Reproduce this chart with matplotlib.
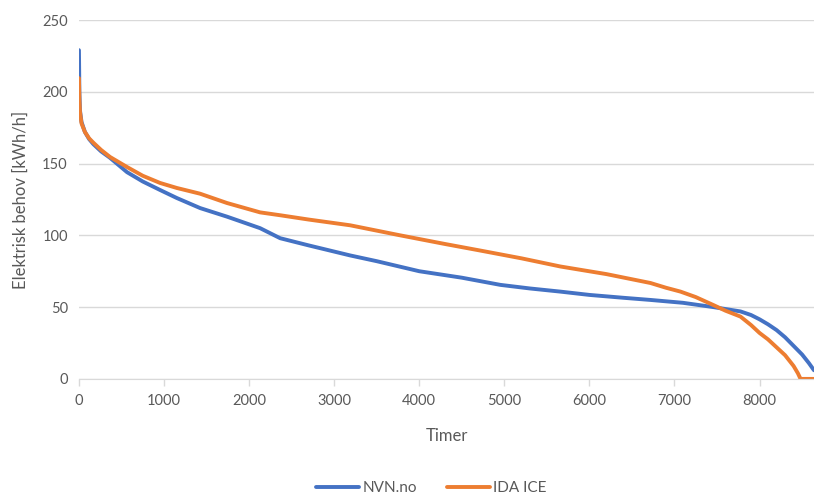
import matplotlib
matplotlib.use("Agg")
import matplotlib.pyplot as plt

plt.rcParams['font.family'] = ['Lato', 'DejaVu Sans']

# Duration curves: hours sorted by electric demand
hours_nvn = [0, 5, 12, 30, 70, 120, 170, 260, 365, 565, 750, 953, 1150, 1424, 1741, 2129,
             2365, 2700, 3188, 3500, 4000, 4500, 4953, 5300, 5659, 6000, 6400, 6718, 7100,
             7459, 7776, 7900, 8000, 8100, 8200, 8300, 8400, 8500, 8580, 8640]
demand_nvn = [229, 200, 187, 179, 172, 167, 163.5, 158.5, 154, 144, 137.5, 131.6, 126, 119,
              113, 105, 98, 93, 86, 82, 75, 70.5, 65.5, 63, 60.8, 58.5, 56.5, 55, 53,
              50, 47, 44.5, 41.5, 38, 34, 29, 23, 17, 11, 6]

hours_ida = [0, 5, 12, 30, 70, 120, 170, 260, 365, 565, 750, 953, 1150, 1424, 1741, 2129,
             2365, 2700, 3188, 3776, 4300, 4718, 5200, 5659, 6200, 6718, 6900, 7071, 7250,
             7459, 7600, 7776, 7900, 8000, 8100, 8200, 8300, 8400, 8450, 8482, 8640]
demand_ida = [209.5, 195, 186, 178, 172, 167.5, 164.5, 159.5, 154.6, 147.6, 141.5, 136.5,
              133, 129, 122.5, 116, 114, 111, 107, 100, 94, 89.4, 84, 78.3, 73, 66.8,
              63.5, 60.8, 57, 51.4, 47.5, 43.4, 37.5, 32, 27.5, 22, 16.5, 9, 4, 0, 0]

x_ticks = [0, 1000, 2000, 3000, 4000, 5000, 6000, 7000, 8000]
y_ticks = [0, 50, 100, 150, 200, 250]

blue = '#4472C4'
orange = '#ED7D31'
text_color = '#595959'

fig = plt.figure(figsize=(8.14, 4.94), dpi=100)
ax = fig.add_axes([0.097, 0.233, 0.903, 0.7265])

ax.plot(hours_nvn, demand_nvn, color=blue, lw=2.8, label='NVN.no', solid_capstyle='round')
ax.plot(hours_ida, demand_ida, color=orange, lw=2.8, label='IDA ICE', solid_capstyle='round')

ax.set_xlim(0, 8640)
ax.set_ylim(0, 250)
ax.set_xticks(x_ticks)
ax.set_yticks(y_ticks)
ax.grid(axis='y', color='#d9d9d9', lw=1)
ax.set_axisbelow(True)
for s in ['top', 'right', 'left']:
    ax.spines[s].set_visible(False)
ax.spines['bottom'].set_color('#d9d9d9')
ax.tick_params(axis='x', colors=text_color, length=5, width=1, color='#d9d9d9', labelsize=10.5, pad=6)
ax.tick_params(axis='y', colors=text_color, length=0, labelsize=10.5, pad=8)

ax.set_xlabel('Timer', color=text_color, fontsize=12, labelpad=14)
ax.set_ylabel('Elektrisk behov [kWh/h]', color=text_color, fontsize=12, labelpad=10)

fig.legend(loc='lower center', bbox_to_anchor=(0.53, -0.03), ncol=2, frameon=False,
           fontsize=11, labelcolor=text_color, handlelength=2.8, columnspacing=2.0,
           handletextpad=0.2)

fig.savefig('out.png', dpi=100)
